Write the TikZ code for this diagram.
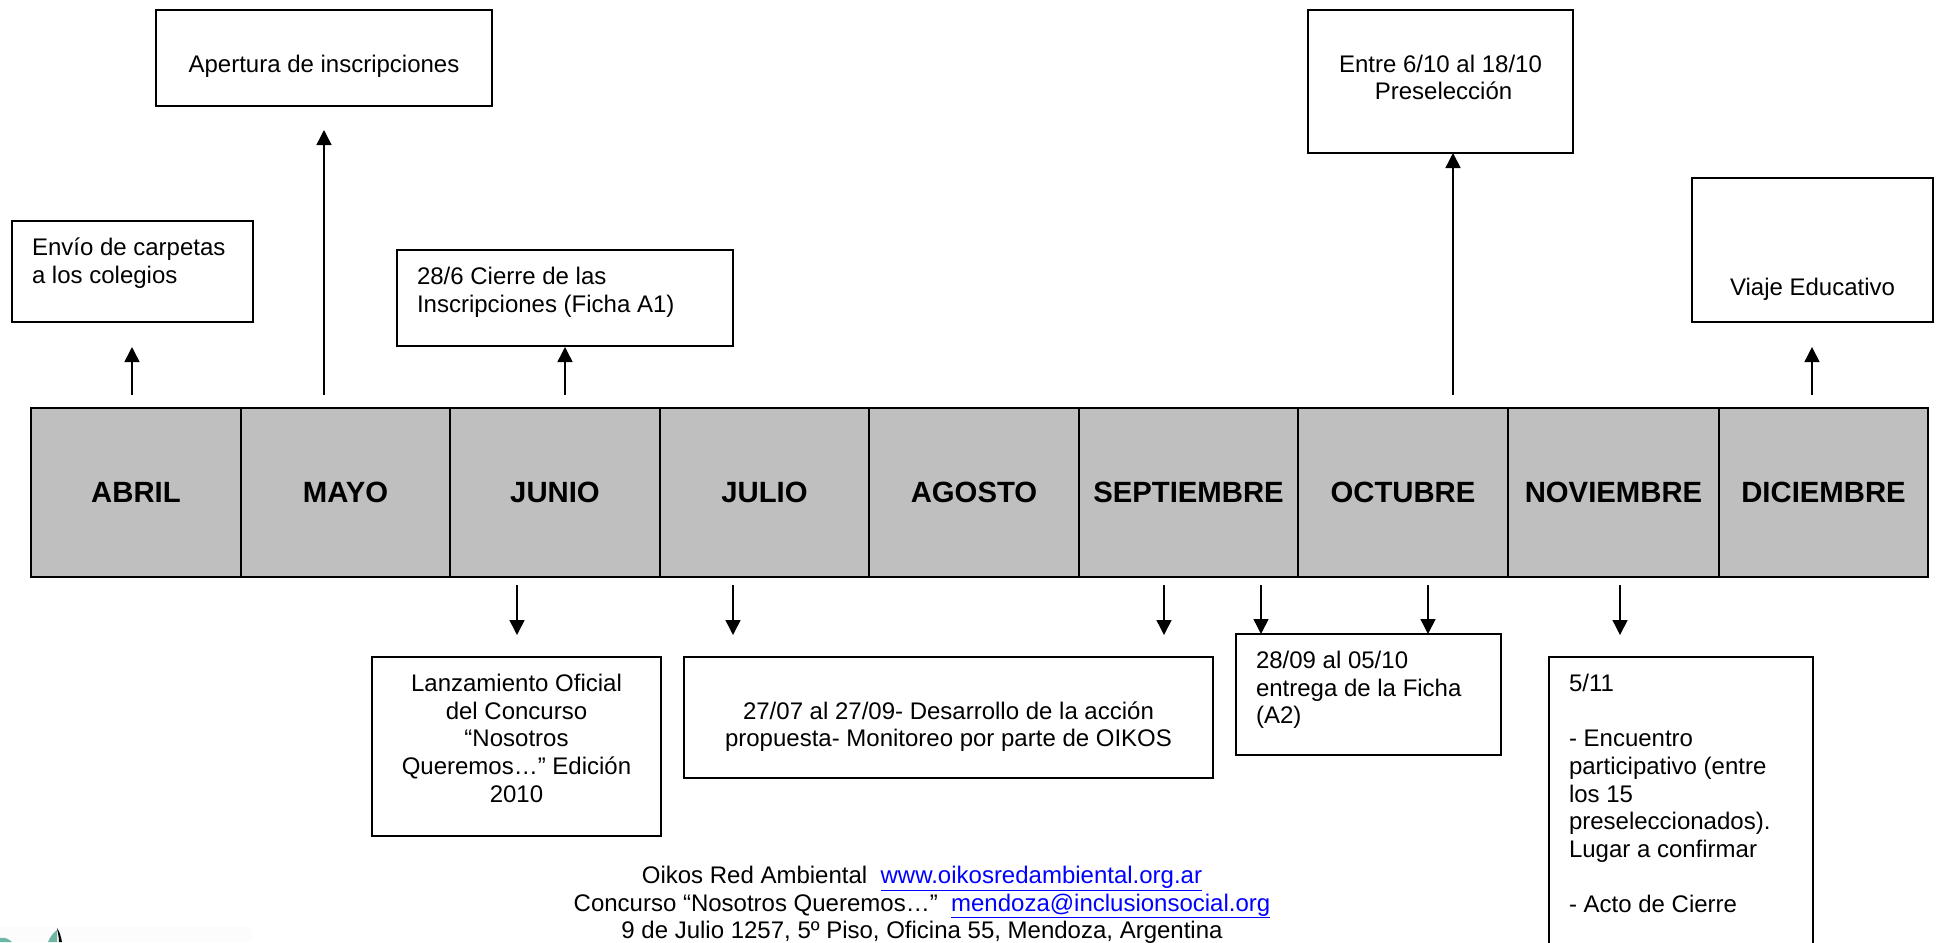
\documentclass[tikz,border=0pt]{standalone}
\usepackage{fontspec}
\setmainfont{Liberation Sans}
\usetikzlibrary{arrows.meta}
\definecolor{logoverde}{HTML}{6FB5A5}
\tikzset{
  caja/.style n args={3}{draw, line width=1.6pt, anchor=north west, inner xsep=20pt, inner ysep=15pt, outer sep=0pt,
    font=\fontsize{24}{27.7}\selectfont,
    execute at begin node={\begin{minipage}[t][\dimexpr#2pt-30pt\relax][t]{\dimexpr#1pt-40pt\relax}#3\leavevmode\strut},
    execute at end node={\end{minipage}}},
  mes/.style={draw, line width=2.2pt, fill=black!25, anchor=north west, minimum height=169pt, inner sep=0pt, outer sep=0pt,
    font=\fontsize{29.3}{33}\selectfont\bfseries},
  flecha/.style={line width=1.5pt, -{Triangle[length=15pt,width=15pt]}}
}
\newcommand{\enlace}[1]{\textcolor{blue}{\underline{#1}}}
\begin{document}
\begin{tikzpicture}[x=1pt, y=-1pt]
    \clip (0,0) rectangle (1937,942);
    \useasboundingbox (0,0) rectangle (1937,942);

    % cajas de arriba
    \node[caja={241}{101}{\raggedright}] (envio) at (12,221) {Envío de carpetas\\a los colegios};
    \node[caja={336}{96}{\centering}] (apertura) at (156,10) {\\Apertura de inscripciones};
    \node[caja={336}{96}{\raggedright}] (cierre) at (397,250) {28/6 Cierre de las\\Inscripciones (Ficha A1)};
    \node[caja={265}{143}{\centering}] (presel) at (1308,10) {\\Entre 6/10 al 18/10\\\hspace*{6pt}Preselección};
    \node[caja={241}{144}{\centering}] (viaje) at (1692,178) {\\\strut\\\strut\\Viaje Educativo};

    % meses
    \node[mes, minimum width=210pt] (abril) at (31,408) {ABRIL};
    \node[mes, minimum width=209pt] (mayo) at (241,408) {MAYO};
    \node[mes, minimum width=210pt] (junio) at (450,408) {JUNIO};
    \node[mes, minimum width=209pt] (julio) at (660,408) {JULIO};
    \node[mes, minimum width=210pt] (agosto) at (869,408) {AGOSTO};
    \node[mes, minimum width=219pt] (septiembre) at (1079,408) {SEPTIEMBRE};
    \node[mes, minimum width=210pt] (octubre) at (1298,408) {OCTUBRE};
    \node[mes, minimum width=211pt] (noviembre) at (1508,408) {NOVIEMBRE};
    \node[mes, minimum width=209pt] (diciembre) at (1719,408) {DICIEMBRE};

    % cajas de abajo
    \node[caja={289}{179}{\centering}] (lanza) at (372,657) {Lanzamiento Oficial\\del Concurso\\“Nosotros\\Queremos…” Edición\\2010};
    \node[caja={529}{121}{\centering}] (accion) at (684,657) {\\27/07 al 27/09- Desarrollo de la acción\\propuesta- Monitoreo por parte de OIKOS};
    \node[caja={265}{121}{\raggedright}] (ficha) at (1236,634) {28/09 al 05/10\\entrega de la Ficha\\(A2)};
    \node[caja={264}{310}{\raggedright}] (encuentro) at (1549,657) {5/11\\\strut\\- Encuentro\\participativo (entre\\los 15\\preseleccionados).\\Lugar a confirmar\\\strut\\- Acto de Cierre};

    % pie
    \node[font=\fontsize{24}{27.6}\selectfont, align=center, inner sep=0pt] (pie) at (922,905) {Oikos Red Ambiental\ \ \enlace{www.oikosredambiental.org.ar}\\Concurso “Nosotros Queremos…”\ \ \enlace{mendoza@inclusionsocial.org}\\9 de Julio 1257, 5º Piso, Oficina 55, Mendoza, Argentina};

    % logo, cortado por el borde
    \fill[black!1] (0,927) rectangle (252,942);
    \fill[logoverde] (0,938) .. controls (5,937) and (9,939) .. (12,942) -- (0,942) -- cycle;
    \fill[logoverde] (48,942) .. controls (50,937) and (53,933) .. (57,930) -- (57,942) -- cycle;
    \fill[black] (57,928) .. controls (60,932) and (61,937) .. (62,942) -- (59,942) .. controls (59,938) and (58,933) .. (57,928) -- cycle;

    % extremos libres de las flechas
    \coordinate (u1) at (132,395);
    \coordinate (u2) at (324,395);
    \coordinate (u3) at (565,395);
    \coordinate (u4) at (1453,395);
    \coordinate (u5) at (1812,395);
    \coordinate (v1) at (132,347);
    \coordinate (v2) at (324,130);
    \coordinate (v3) at (565,347);
    \coordinate (v4) at (1453,153);
    \coordinate (v5) at (1812,347);
    \coordinate (d1) at (517,585);
    \coordinate (d2) at (733,585);
    \coordinate (d3) at (1164,585);
    \coordinate (d4) at (1261,585);
    \coordinate (d5) at (1428,585);
    \coordinate (d6) at (1620,585);
    \coordinate (e1) at (517,635);
    \coordinate (e2) at (733,635);
    \coordinate (e3) at (1164,635);
    \coordinate (e4) at (1261,634);
    \coordinate (e5) at (1428,634);
    \coordinate (e6) at (1620,635);

    % flechas
    \draw[flecha] (u1) -- (v1);
    \draw[flecha] (u2) -- (v2);
    \draw[flecha] (u3) -- (v3);
    \draw[flecha] (u4) -- (v4);
    \draw[flecha] (u5) -- (v5);
    \draw[flecha] (d1) -- (e1);
    \draw[flecha] (d2) -- (e2);
    \draw[flecha] (d3) -- (e3);
    \draw[flecha] (d4) -- (e4);
    \draw[flecha] (d5) -- (e5);
    \draw[flecha] (d6) -- (e6);
\end{tikzpicture}
\end{document}
